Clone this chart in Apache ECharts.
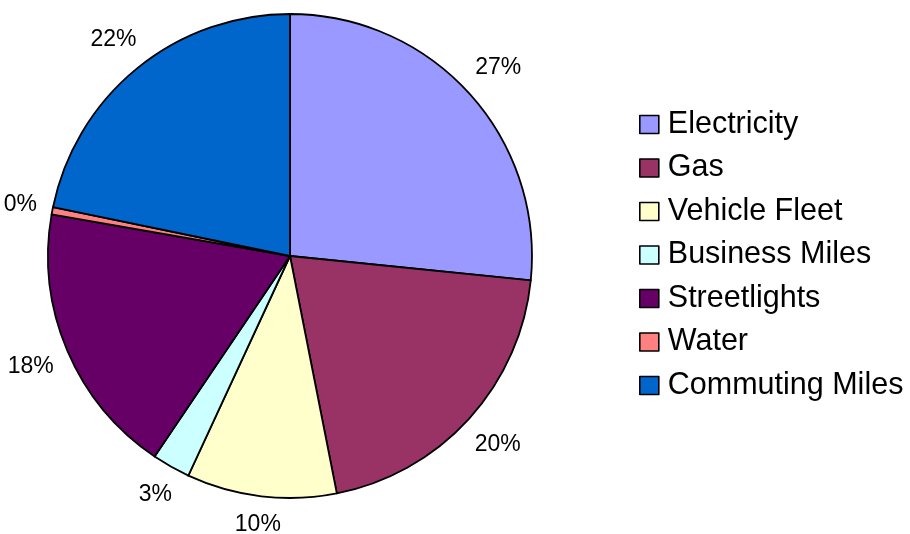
<!DOCTYPE html>
<html>
<head>
<meta charset="utf-8">
<script src="https://cdn.jsdelivr.net/npm/echarts@6/dist/echarts.min.js"></script>
<style>
  html, body { margin: 0; padding: 0; background: #fff; }
  #chart { width: 910px; height: 534px; }
</style>
</head>
<body>
<div id="chart"></div>
<script>
// Emission sources and their share of the total (%)
const categories = ['Electricity', 'Gas', 'Vehicle Fleet', 'Business Miles', 'Streetlights', 'Water', 'Commuting Miles'];
const shares = [26.6, 20.3, 10.0, 2.55, 18.3, 0.48, 21.77];
const sliceColors = ['#9999FF', '#993366', '#FFFFCC', '#CCFFFF', '#660066', '#FF8080', '#0066CC'];

const CX = 290, CY = 256, R = 242;
const FONT = '"Liberation Sans", Arial, sans-serif';

const chart = echarts.init(document.getElementById('chart'), null, { renderer: 'canvas' });

chart.setOption({
  backgroundColor: '#ffffff',
  animation: false,
  color: sliceColors,
  legend: {
    orient: 'vertical',
    left: 634,
    top: 104,
    itemWidth: 19,
    itemHeight: 18,
    itemGap: 12.5,
    icon: 'rect',
    itemStyle: { borderColor: '#000', borderWidth: 1.6 },
    textStyle: { fontFamily: FONT, fontSize: 30.5, lineHeight: 31, color: '#000', padding: [0, 0, 0, 4] },
    data: categories
  },
  series: [{
    type: 'pie',
    center: [CX, CY],
    radius: R,
    startAngle: 90,
    clockwise: true,
    avoidLabelOverlap: false,
    itemStyle: { borderColor: '#000', borderWidth: 1.8 },
    emphasis: { disabled: true },
    label: {
      show: true,
      position: 'outside',
      distanceToLabelLine: 0,
      fontFamily: FONT,
      fontSize: 23,
      lineHeight: 22,
      color: '#000',
      formatter: p => Math.round(p.percent) + '%'
    },
    labelLine: { show: false, length: 14, length2: 0 },
    // push each label box radially outward so its nearest side sits just past the rim
    labelLayout: function (p) {
      const r = p.labelRect;
      const midX = r.x + r.width / 2;
      const ay = r.y + r.height / 2;
      const ax = midX > CX ? r.x : r.x + r.width;
      const dx = ax - CX, dy = ay - CY;
      const len = Math.sqrt(dx * dx + dy * dy) || 1;
      const ux = dx / len, uy = dy / len;
      const s = (r.width / 2) * Math.abs(ux) + (r.height / 2) * Math.abs(uy);
      return { x: ax + s * ux, y: ay + s * uy, align: 'center', verticalAlign: 'middle' };
    },
    data: categories.map((name, i) => ({ name: name, value: shares[i] }))
  }]
});
</script>
</body>
</html>
